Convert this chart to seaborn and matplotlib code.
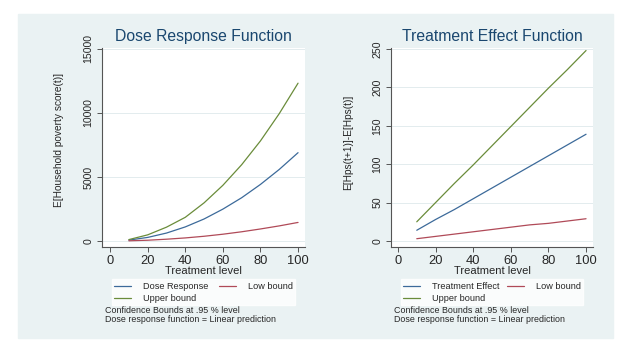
import numpy as np
import pandas as pd
import seaborn as sns
import matplotlib
matplotlib.use('Agg')
import matplotlib.pyplot as plt
from matplotlib.patches import Rectangle

# treatment levels and values
treatment = [10, 20, 30, 40, 50, 60, 70, 80, 90, 100]

dose_response = [70, 280, 620, 1100, 1720, 2490, 3380, 4420, 5590, 6900]
dose_low = [15, 60, 140, 240, 370, 530, 720, 940, 1180, 1450]
dose_upper = [110, 480, 1080, 1850, 2980, 4350, 5960, 7820, 9950, 12330]

effect = [14, 28, 41, 55, 69, 83, 97, 111, 125, 139]
effect_low = [3, 6, 9, 12, 15, 18, 21, 23, 26, 29]
effect_upper = [25, 50, 75, 99, 124, 149, 174, 199, 223, 248]

notes = "Confidence Bounds at .95 % level\nDose response function = Linear prediction"

sns.set_style('white')
plt.rcParams['font.family'] = ['Liberation Sans', 'DejaVu Sans']
narrow = ['Liberation Sans Narrow', 'Liberation Sans']

blue = '#3C6A9A'
red = '#B04A58'
green = '#6A8C3A'
bg = '#EAF2F3'

fig = plt.figure(figsize=(6.3, 3.45), dpi=100)
fig.patch.set_facecolor('white')
fig.patches.append(Rectangle((18 / 630, 1 - 338 / 345), 595 / 630, 324 / 345,
                             transform=fig.transFigure, color=bg, zorder=-10))

W, H = 630, 345


def make_ax(x0, x1, y0, y1):
    return fig.add_axes([x0 / W, 1 - y1 / H, (x1 - x0) / W, (y1 - y0) / H])


panels = [
    dict(ax=make_ax(102, 305, 48, 247), title='Dose Response Function',
         ylabel='E[Household poverty score(t)]', ylabel_pos=(-0.187, 0.538),
         series=[('Dose Response', dose_response, blue), ('Upper bound', dose_upper, green),
                 ('Low bound', dose_low, red)],
         yticks=[0, 5000, 10000, 15000], ylim=(-469, 15078), xlim=(-4.3, 103.7)),
    dict(ax=make_ax(391, 593, 48, 247), title='Treatment Effect Function',
         ylabel='E[Hps(t+1)]-E[Hps(t)]', ylabel_pos=(-0.188, 0.528),
         series=[('Treatment Effect', effect, blue), ('Upper bound', effect_upper, green),
                 ('Low bound', effect_low, red)],
         yticks=[0, 50, 100, 150, 200, 250], ylim=(-7.8, 251.3), xlim=(-3.7, 103.7)),
]

for p in panels:
    ax = p['ax']
    ax.set_facecolor('white')
    for name, vals, col in p['series']:
        sns.lineplot(x=treatment, y=vals, color=col, linewidth=0.9, label=name, ax=ax)
    ax.set_xlim(*p['xlim'])
    ax.set_ylim(*p['ylim'])
    ax.set_xticks([0, 20, 40, 60, 80, 100])
    ax.set_yticks(p['yticks'])
    for yt in p['yticks']:
        ax.axhline(yt, color='#E3ECEE', linewidth=0.7, zorder=0)
    for s in ['top', 'right']:
        ax.spines[s].set_visible(False)
    for s in ['left', 'bottom']:
        ax.spines[s].set_color('#555555')
        ax.spines[s].set_linewidth(0.8)
    ax.tick_params(axis='both', direction='out', length=3.5, width=0.7, color='#555555',
                   pad=2.5, left=True, bottom=True)
    ax.tick_params(axis='x', labelsize=9.3)
    for lab in ax.get_yticklabels():
        lab.set_family(narrow)
        lab.set_fontsize(7.6)
        lab.set_rotation(90)
        lab.set_va('center')
    ax.set_title(p['title'], color='#1A476F', fontsize=11.3, pad=5)
    ax.set_xlabel('Treatment level', fontsize=8, labelpad=-1)
    ax.set_ylabel(p['ylabel'], fontsize=7.3, family=narrow)
    ax.yaxis.set_label_coords(*p['ylabel_pos'])
    leg = ax.legend(loc='upper left', bbox_to_anchor=(0.025, -0.14, 0.95, 0.0), mode='expand',
                    ncol=2, fontsize=6.6, frameon=True, fancybox=False, handlelength=1.9,
                    handletextpad=1.3, borderpad=0.25, labelspacing=0.35)
    leg.get_frame().set_facecolor('white')
    leg.get_frame().set_edgecolor('white')
    ax.text(0.015, -0.298, notes, transform=ax.transAxes, fontsize=6.4, va='top', ha='left',
            linespacing=0.9)

fig.savefig('out.png', dpi=100, facecolor='white')
